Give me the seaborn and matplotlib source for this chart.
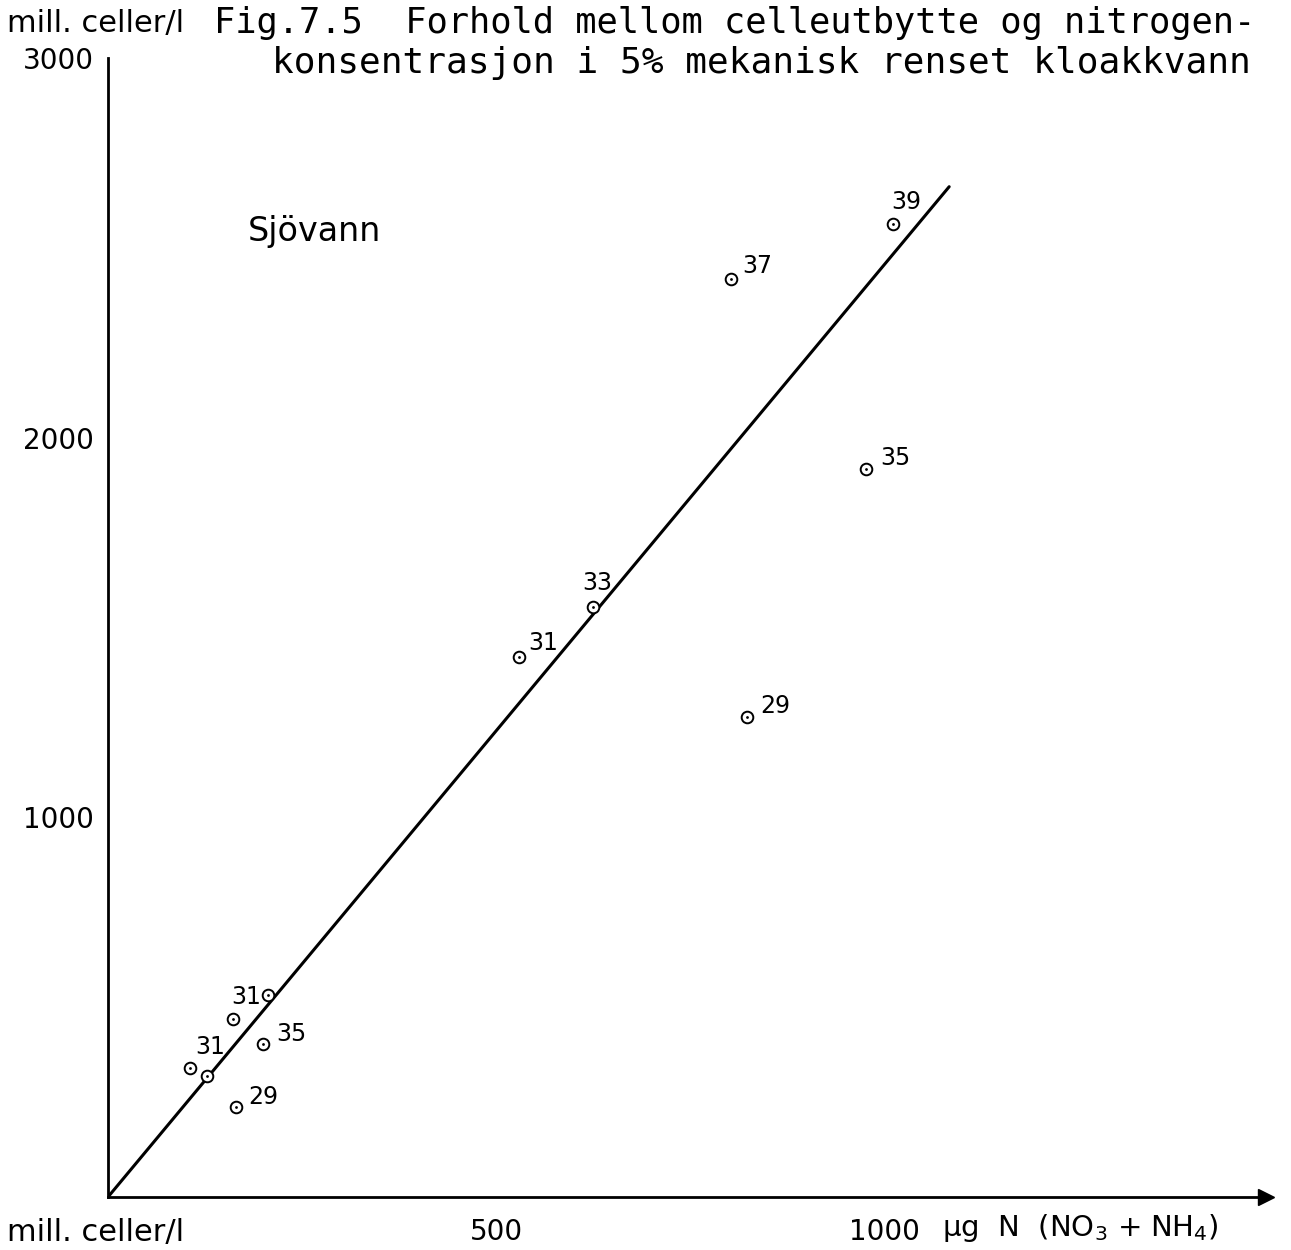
import matplotlib
matplotlib.use("Agg")
import matplotlib.pyplot as plt
import seaborn as sns
import pandas as pd

# -------------------------------
# Data
# -------------------------------
n_conc = [206, 161, 200, 106, 128, 165, 530, 625, 823, 977, 803, 1012]
cells = [532, 468, 402, 341, 320, 238, 1423, 1553, 1265, 1918, 2418, 2563]
labels = ["", "31", "35", "31", "", "29", "31", "33", "29", "35", "37", "39"]
fit_x = [0, 1084]
fit_y = [0, 2661]
x_ticks = [500, 1000]
y_ticks = [1000, 2000, 3000]

# label offsets from each point (pixels)
label_offsets = [(0, 0), (-2, 22), (13, 10), (5, 21), (0, 0), (12, 10),
                 (9, 14), (-11, 24), (14, 11), (14, 11), (11, 13), (-2, 22)]

df = pd.DataFrame({"n": n_conc, "cells": cells, "label": labels})
fit = pd.DataFrame({"n": fit_x, "cells": fit_y})

# -------------------------------
# Style
# -------------------------------
sns.set_style("white")
plt.rcParams["font.family"] = ["DejaVu Sans"]
plt.rcParams["text.color"] = "black"
plt.rcParams["xtick.color"] = "black"
plt.rcParams["ytick.color"] = "black"
W, H = 1291, 1250
fig = plt.figure(figsize=(W / 100, H / 100), dpi=100)
ax = fig.add_axes([108 / W, 53 / H, 1158 / W, 1139 / H])

# -------------------------------
# Plot
# -------------------------------
sns.lineplot(data=fit, x="n", y="cells", color="black", lw=2.2, ax=ax)
sns.scatterplot(data=df, x="n", y="cells", marker="o", s=70, facecolor="white",
                edgecolor="black", linewidth=1.4, ax=ax, zorder=3)
sns.scatterplot(data=df, x="n", y="cells", marker="o", s=4, color="black",
                linewidth=0, ax=ax, zorder=4)

for (x, y, lab), (dx, dy) in zip(df[["n", "cells", "label"]].values, label_offsets):
    if lab:
        ax.annotate(lab, (x, y), xytext=(dx * 0.72, dy * 0.72),
                    textcoords="offset points", ha="left", va="center", fontsize=17)

ax.set_xlim(0, 1158 / 0.776)
ax.set_ylim(0, 3000)
ax.set_xticks(x_ticks)
ax.set_yticks(y_ticks)
ax.set_xticklabels([str(t) for t in x_ticks], fontsize=20)
ax.set_yticklabels([str(t) for t in y_ticks], fontsize=20)
ax.tick_params(axis="both", direction="out", length=7, width=1.5, color="black")
ax.tick_params(axis="x", pad=8)
ax.set_xlabel("")
ax.set_ylabel("")
sns.despine(ax=ax)
for s in ["left", "bottom"]:
    ax.spines[s].set_linewidth(2)
    ax.spines[s].set_color("black")
ax.plot(1, 0, marker=">", color="black", markersize=12, transform=ax.transAxes,
        clip_on=False)

fig.text(248 / W, 1 - 232 / H, "Sjövann", fontsize=24, va="center")

# -------------------------------
# Texts around the axes
# -------------------------------
fig.text(7 / W, 1 - 32 / H, "mill. celler/l", fontsize=22, va="baseline")
fig.text(7 / W, 1 - 1241 / H, "mill. celler/l", fontsize=22, va="baseline")
fig.text(214 / W, 1 - 33 / H, "Fig.7.5  Forhold mellom celleutbytte og nitrogen-",
         fontsize=25.5, va="baseline", family="DejaVu Sans Mono")
fig.text(272 / W, 1 - 73 / H, "konsentrasjon i 5% mekanisk renset kloakkvann",
         fontsize=26, va="baseline", family="DejaVu Sans Mono")
fig.text(942 / W, 1 - 1228 / H, r"µg  N  (NO$_3$ + NH$_4$)", fontsize=21, va="center")

fig.savefig("out.png", dpi=100)
